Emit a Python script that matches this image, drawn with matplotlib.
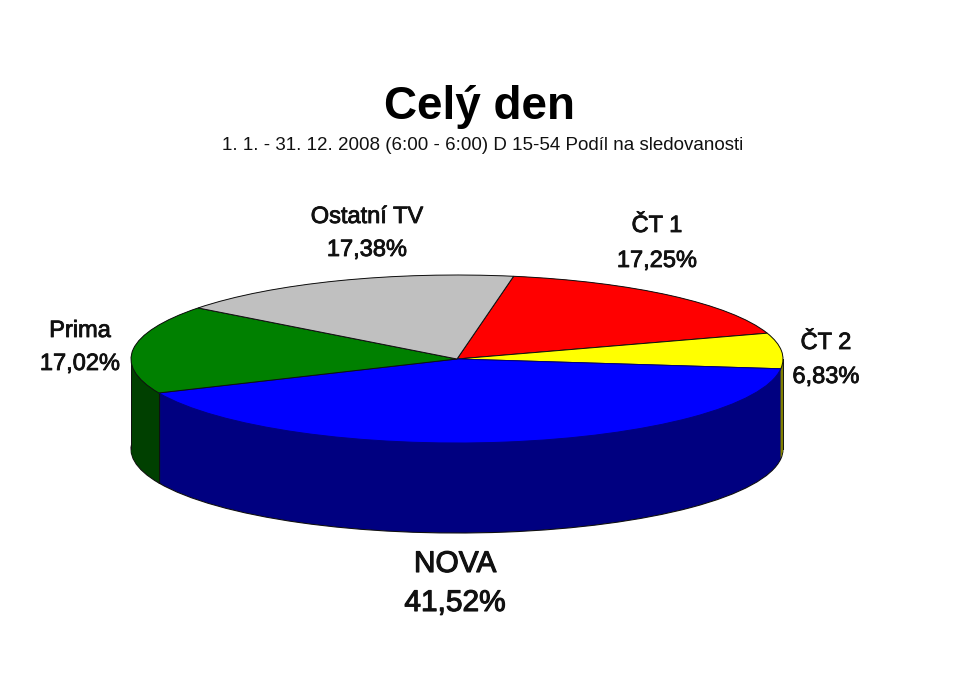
import math
import matplotlib.pyplot as plt
import matplotlib.patheffects as pe

labels = ['ČT 1', 'ČT 2', 'NOVA', 'Prima', 'Ostatní TV']
values = [17.25, 6.83, 41.52, 17.02, 17.38]
top_colors = ['#ff0000', '#ffff00', '#0000ff', '#008000', '#c0c0c0']
side_colors = ['#800000', '#808000', '#000080', '#004000', '#606060']

W, H = 959, 697
CX, CY, RX, RY = 457, 359, 326, 84
DEPTH = 90
START = 80

plt.rcParams['font.family'] = ['Liberation Sans', 'DejaVu Sans']

fig = plt.figure(figsize=(W / 100, H / 100), dpi=100, facecolor='white')
ax = fig.add_axes([0, 0, 1, 1])

# side of the cake = the same pie stacked downwards in dark colours
ax.pie(values, colors=side_colors, startangle=START, counterclock=False,
       center=(0, -DEPTH / RY), radius=1,
       wedgeprops={'linewidth': 0.8, 'edgecolor': '#101010'})
for d in range(DEPTH - 1, -1, -1):
    ax.pie(values, colors=side_colors, startangle=START, counterclock=False,
           center=(0, -d / RY), radius=1, wedgeprops={'linewidth': 0})

# top outline goes over everything
top_wedges, _ = ax.pie(values, colors=top_colors, startangle=START, counterclock=False,
                       center=(0, 0), radius=1,
                       wedgeprops={'linewidth': 0.7, 'edgecolor': '#101010', 'zorder': 6})
# blue arc has no black line in the original
top_wedges[2].set_edgecolor('#000080')

# vertical edges of the side: both rims and the green/blue corner
corner = math.radians(top_wedges[3].theta2)
for x, y in [(-1, 0), (1, 0), (math.cos(corner), math.sin(corner))]:
    ax.plot([x, x], [y, y - DEPTH / RY], color='#101010', lw=0.7, zorder=5)

# squash the round pie into the tilted ellipse
ax.set_aspect('auto')
ax.set_xlim(-CX / RX, (W - CX) / RX)
ax.set_ylim((CY - H) / RY, CY / RY)
ax.axis('off')


def put(x, y, s, size, stroke=0.0):
    t = fig.text(x / W, 1 - y / H, s, size=size, ha='center', va='center', color='#111111')
    if stroke:
        t.set_path_effects([pe.withStroke(linewidth=stroke, foreground='#111111')])
    return t


def pct(v):
    return f'{v:.2f}%'.replace('.', ',')


t = put(479, 107, 'Celý den', 33)
t.set_weight('bold')
t.set_color('black')
put(483, 146, '1. 1. - 31. 12. 2008 (6:00 - 6:00) D 15-54 Podíl na sledovanosti', 13.5)

put(367, 217, labels[4], 17, 0.6)
put(367, 250, pct(values[4]), 17, 0.6)
put(657, 226, labels[0], 17, 0.6)
put(657, 261, pct(values[0]), 17, 0.6)
put(826, 343, labels[1], 17, 0.6)
put(826, 377, pct(values[1]), 17, 0.6)
put(80, 331, labels[3], 17, 0.6)
put(80, 364, pct(values[3]), 17, 0.6)
put(455, 564, labels[2], 21.5, 0.8)
put(455, 603, pct(values[2]), 21.5, 0.8)

fig.savefig('out.png', dpi=100)
